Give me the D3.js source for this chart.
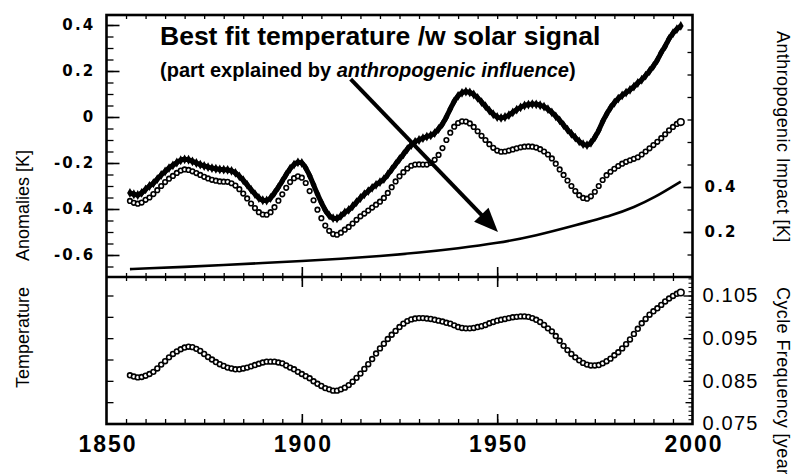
<!DOCTYPE html>
<html>
<head>
<meta charset="utf-8">
<script src="https://cdn.jsdelivr.net/npm/d3@7"></script>
<style>
body { margin: 0; background: #fff; }
svg { display: block; font-family: "Liberation Sans", Arial, Helvetica, sans-serif; }
</style>
</head>
<body>
<div id="chart"></div>
<script>
// annual series, 1856 - 1997
var YEARS = d3.range(1856, 1998);

// best fit temperature /w solar signal (filled marks), K
var BEST_FIT = [
    -0.330, -0.336, -0.339, -0.330, -0.315, -0.300, -0.288, -0.270, -0.252, -0.237,
    -0.222, -0.210, -0.198, -0.188, -0.184, -0.186, -0.193, -0.200, -0.207, -0.213,
    -0.218, -0.222, -0.225, -0.228, -0.229, -0.230, -0.234, -0.243, -0.258, -0.275,
    -0.295, -0.316, -0.335, -0.352, -0.362, -0.363, -0.352, -0.330, -0.305, -0.278,
    -0.250, -0.225, -0.207, -0.197, -0.200, -0.222, -0.255, -0.295, -0.335, -0.372,
    -0.405, -0.428, -0.440, -0.441, -0.430, -0.415, -0.404, -0.388, -0.370, -0.352,
    -0.336, -0.322, -0.308, -0.295, -0.283, -0.270, -0.250, -0.228, -0.205, -0.183,
    -0.162, -0.140, -0.122, -0.108, -0.100, -0.092, -0.085, -0.080, -0.070, -0.052,
    -0.030, 0.000, 0.035, 0.068, 0.092, 0.105, 0.110, 0.107, 0.098, 0.083,
    0.065, 0.047, 0.028, 0.012, 0.000, -0.004, 0.000, 0.008, 0.020, 0.032,
    0.042, 0.050, 0.054, 0.056, 0.055, 0.051, 0.045, 0.034, 0.020, 0.003,
    -0.015, -0.035, -0.055, -0.073, -0.090, -0.106, -0.118, -0.122, -0.112, -0.088,
    -0.058, -0.020, 0.012, 0.040, 0.062, 0.080, 0.094, 0.106, 0.118, 0.132,
    0.148, 0.162, 0.180, 0.200, 0.222, 0.248, 0.280, 0.308, 0.340, 0.364,
    0.382, 0.396
];

// temperature without the anthropogenic part (open circles), K
var NATURAL = [
    -0.365, -0.373, -0.377, -0.372, -0.360, -0.350, -0.335, -0.318, -0.300, -0.283,
    -0.268, -0.256, -0.243, -0.233, -0.228, -0.230, -0.236, -0.244, -0.252, -0.260,
    -0.267, -0.273, -0.277, -0.280, -0.281, -0.282, -0.288, -0.298, -0.314, -0.333,
    -0.354, -0.376, -0.396, -0.414, -0.424, -0.425, -0.414, -0.392, -0.364, -0.336,
    -0.308, -0.283, -0.266, -0.258, -0.264, -0.287, -0.322, -0.362, -0.403, -0.440,
    -0.472, -0.495, -0.509, -0.512, -0.503, -0.490, -0.478, -0.463, -0.447, -0.432,
    -0.420, -0.407, -0.394, -0.381, -0.368, -0.352, -0.330, -0.305, -0.280, -0.258,
    -0.240, -0.224, -0.212, -0.207, -0.206, -0.207, -0.207, -0.200, -0.186, -0.165,
    -0.135, -0.100, -0.068, -0.042, -0.026, -0.019, -0.020, -0.028, -0.043, -0.062,
    -0.082, -0.100, -0.118, -0.134, -0.146, -0.151, -0.150, -0.146, -0.141, -0.136,
    -0.132, -0.129, -0.128, -0.129, -0.133, -0.140, -0.150, -0.163, -0.180, -0.203,
    -0.228, -0.252, -0.276, -0.300, -0.322, -0.340, -0.352, -0.355, -0.345, -0.325,
    -0.300, -0.274, -0.253, -0.238, -0.225, -0.213, -0.203, -0.195, -0.188, -0.182,
    -0.175, -0.163, -0.150, -0.136, -0.122, -0.108, -0.092, -0.075, -0.058, -0.043,
    -0.030, -0.022
];

// anthropogenic impact, right axis of upper panel, K
var ANTHRO_YEARS = [1856, 1860, 1870, 1880, 1890, 1900, 1910, 1920, 1930, 1940, 1950, 1960, 1970, 1980, 1985, 1990, 1997];
var ANTHRO = [0.035, 0.038, 0.045, 0.053, 0.062, 0.071, 0.081, 0.093, 0.108, 0.127, 0.150, 0.184, 0.230, 0.277, 0.310, 0.350, 0.424];

// solar cycle frequency, 1/year
var CYCLE_FREQ = [
    0.0863, 0.0860, 0.0858, 0.0859, 0.0862, 0.0866, 0.0871, 0.0879, 0.0888, 0.0896,
    0.0905, 0.0913, 0.0919, 0.0924, 0.0928, 0.0930, 0.0929, 0.0925, 0.0920, 0.0913,
    0.0906, 0.0900, 0.0894, 0.0889, 0.0885, 0.0881, 0.0879, 0.0877, 0.0877, 0.0879,
    0.0881, 0.0884, 0.0887, 0.0890, 0.0893, 0.0895, 0.0895, 0.0895, 0.0893, 0.0891,
    0.0886, 0.0881, 0.0877, 0.0871, 0.0866, 0.0861, 0.0856, 0.0849, 0.0843, 0.0838,
    0.0833, 0.0830, 0.0827, 0.0827, 0.0830, 0.0834, 0.0840, 0.0848, 0.0857, 0.0867,
    0.0878, 0.0889, 0.0901, 0.0914, 0.0926, 0.0937, 0.0948, 0.0958, 0.0967, 0.0976,
    0.0984, 0.0990, 0.0994, 0.0996, 0.0997, 0.0997, 0.0996, 0.0995, 0.0993, 0.0991,
    0.0989, 0.0986, 0.0984, 0.0980, 0.0976, 0.0974, 0.0973, 0.0973, 0.0974, 0.0976,
    0.0978, 0.0981, 0.0985, 0.0988, 0.0991, 0.0993, 0.0995, 0.0997, 0.0999, 0.1000,
    0.1001, 0.1001, 0.1000, 0.0997, 0.0993, 0.0988, 0.0981, 0.0973, 0.0966, 0.0955,
    0.0944, 0.0932, 0.0922, 0.0913, 0.0905, 0.0898, 0.0892, 0.0888, 0.0886, 0.0886,
    0.0887, 0.0891, 0.0896, 0.0902, 0.0910, 0.0917, 0.0926, 0.0936, 0.0947, 0.0960,
    0.0972, 0.0985, 0.0995, 0.1005, 0.1013, 0.1020, 0.1028, 0.1036, 0.1043, 0.1049,
    0.1054, 0.1057
];

// tick labels
var TEMP_TICKS = [0.4, 0.2, 0, -0.2, -0.4, -0.6];
var ANTHRO_TICKS = [0.2, 0.4];
var FREQ_TICKS = [0.075, 0.085, 0.095, 0.105];
var YEAR_TICKS = [1850, 1900, 1950, 2000];

// annotation arrow, in (year, K)
var ARROW = [[1912.5, 0.165], [1950.2, -0.5]];

var W = 798, H = 474;
var L = 106.5, R = 692.5, T = 15, M = 277, B = 424;

var x = d3.scaleLinear().domain([1850, 2000]).range([L, R]);
var yT = d3.scaleLinear().domain([-0.6, 0.4]).range([255, 25]);
var yA = d3.scaleLinear().domain([0, 0.4]).range([M, 187]);
var yF = d3.scaleLinear().domain([0.075, 0.105]).range([423.5, 295.5]);

var svg = d3.select("#chart").append("svg")
    .attr("width", W)
    .attr("height", H);

// ticks helper: no domain line, black tick marks
function ticks(g, axis, w) {
    g.call(axis);
    g.select(".domain").remove();
    g.selectAll("line").attr("stroke", "#000").attr("stroke-width", w || 1.3);
    return g;
}

function fmtTemp(d) {
    return Math.abs(d) < 1e-9 ? "0" : d.toFixed(1);
}

// ---- x ticks
var minorYears = d3.range(1855, 2000, 5);
ticks(svg.append("g").attr("transform", "translate(0," + B + ")"),
    d3.axisBottom(x).tickValues(minorYears).tickSize(-5).tickFormat(""));
ticks(svg.append("g").attr("transform", "translate(0," + B + ")"),
    d3.axisBottom(x).tickValues([1900, 1950]).tickSize(-10).tickFormat(""), 1.6);
ticks(svg.append("g").attr("transform", "translate(0," + M + ")"),
    d3.axisBottom(x).tickValues(minorYears).tickSize(4).tickFormat(""));
ticks(svg.append("g").attr("transform", "translate(0," + M + ")"),
    d3.axisTop(x).tickValues(minorYears).tickSize(4).tickFormat(""));
ticks(svg.append("g").attr("transform", "translate(0," + M + ")"),
    d3.axisBottom(x).tickValues([1900, 1950]).tickSize(10).tickFormat(""), 1.6);
ticks(svg.append("g").attr("transform", "translate(0," + M + ")"),
    d3.axisTop(x).tickValues([1900, 1950]).tickSize(10).tickFormat(""), 1.6);
ticks(svg.append("g").attr("transform", "translate(0," + T + ")"),
    d3.axisBottom(x).tickValues(minorYears).tickSize(4).tickFormat(""));

var xl = ticks(svg.append("g").attr("transform", "translate(0," + B + ")"),
    d3.axisBottom(x).tickValues(YEAR_TICKS).tickSize(0).tickPadding(12).tickFormat(d3.format("d")));
xl.attr("font-size", 23).attr("font-family", null).attr("font-weight", "bold");
xl.selectAll("text").attr("letter-spacing", 2).attr("dx", 1);

// ---- left axis, upper panel
ticks(svg.append("g").attr("transform", "translate(" + L + ",0)"),
    d3.axisLeft(yT).tickValues(d3.range(-13, 9).map(function (i) { return i * 0.05; }))
        .tickSize(-7).tickFormat(""));
var tl = ticks(svg.append("g").attr("transform", "translate(" + L + ",0)"),
    d3.axisLeft(yT).tickValues(TEMP_TICKS).tickSize(-13).tickPadding(11).tickFormat(fmtTemp), 1.6);
tl.attr("font-size", 15).attr("font-family", "'DejaVu Sans', sans-serif").attr("font-weight", "bold");
tl.selectAll("text").attr("letter-spacing", 2.2);

// ---- left axis, lower panel
ticks(svg.append("g").attr("transform", "translate(" + L + ",0)"),
    d3.axisLeft(yF).tickValues([0.08, 0.085, 0.09, 0.095, 0.1, 0.105]).tickSize(-7).tickFormat(""));

// ---- right axis, upper panel
ticks(svg.append("g").attr("transform", "translate(" + R + ",0)"),
    d3.axisRight(yA).tickValues(d3.range(1, 12).map(function (i) { return i * 0.1; }))
        .tickSize(-5).tickFormat(""));
var ta = ticks(svg.append("g").attr("transform", "translate(" + R + ",0)"),
    d3.axisRight(yA).tickValues(ANTHRO_TICKS).tickSize(-9).tickPadding(12).tickFormat(d3.format(".1f")), 1.6);
ta.attr("font-size", 15).attr("font-family", "'DejaVu Sans', sans-serif").attr("font-weight", "bold");
ta.selectAll("text").attr("letter-spacing", 2.2);

// ---- right axis, lower panel
ticks(svg.append("g").attr("transform", "translate(" + R + ",0)"),
    d3.axisRight(yF).tickValues(d3.range(75, 110).map(function (i) { return i / 1000; }))
        .tickSize(-4).tickFormat(""), 1);
ticks(svg.append("g").attr("transform", "translate(" + R + ",0)"),
    d3.axisRight(yF).tickValues([0.08, 0.09, 0.1]).tickSize(-7).tickFormat(""));
var tf = ticks(svg.append("g").attr("transform", "translate(" + R + ",0)"),
    d3.axisRight(yF).tickValues(FREQ_TICKS).tickSize(-9).tickPadding(10).tickFormat(d3.format(".3f")), 1.4);
tf.attr("font-size", 20).attr("font-family", null);
tf.selectAll("text").attr("letter-spacing", 1.2);

// ---- frame
svg.append("rect")
    .attr("x", L).attr("y", T)
    .attr("width", R - L).attr("height", B - T)
    .attr("fill", "none").attr("stroke", "#000").attr("stroke-width", 2.6);
svg.append("line")
    .attr("x1", L).attr("x2", R).attr("y1", M).attr("y2", M)
    .attr("stroke", "#000").attr("stroke-width", 2.6);

// ---- anthropogenic impact
var anthroLine = d3.line()
    .x(function (d, i) { return x(ANTHRO_YEARS[i]); })
    .y(function (d) { return yA(d); })
    .curve(d3.curveBasis);
svg.append("path")
    .attr("d", anthroLine(ANTHRO))
    .attr("fill", "none").attr("stroke", "#000").attr("stroke-width", 2.6);

// ---- best fit (thick black with diamonds)
var fitLine = d3.line()
    .x(function (d, i) { return x(YEARS[i]); })
    .y(function (d) { return yT(d); })
    .curve(d3.curveMonotoneX);
svg.append("path")
    .attr("d", fitLine(BEST_FIT))
    .attr("fill", "none").attr("stroke", "#000").attr("stroke-width", 5)
    .attr("stroke-linejoin", "round");
svg.append("g").selectAll("path")
    .data(BEST_FIT)
    .enter().append("path")
    .attr("transform", function (d, i) { return "translate(" + x(YEARS[i]) + "," + yT(d) + ")"; })
    .attr("d", d3.symbol().type(d3.symbolDiamond).size(28))
    .attr("fill", "#000");

// ---- open circle series
function circles(values, yScale, r) {
    svg.append("g").selectAll("circle")
        .data(values)
        .enter().append("circle")
        .attr("cx", function (d, i) { return x(YEARS[i]); })
        .attr("cy", function (d) { return yScale(d); })
        .attr("r", function (d, i) { return i === values.length - 1 ? 3.3 : r; })
        .attr("fill", "#fff")
        .attr("stroke", "#000")
        .attr("stroke-width", 1.6);
}
circles(NATURAL, yT, 2.3);
circles(CYCLE_FREQ, yF, 2.4);

// ---- arrow
var p0 = [x(ARROW[0][0]), yT(ARROW[0][1])],
    p1 = [x(ARROW[1][0]), yT(ARROW[1][1])];
var dx = p1[0] - p0[0], dy = p1[1] - p0[1], len = Math.sqrt(dx * dx + dy * dy);
var ux = dx / len, uy = dy / len, hl = 24, hw = 10;
var bx = p1[0] - ux * hl, by = p1[1] - uy * hl;
svg.append("line")
    .attr("x1", p0[0]).attr("y1", p0[1])
    .attr("x2", bx + ux * 2).attr("y2", by + uy * 2)
    .attr("stroke", "#000").attr("stroke-width", 4);
svg.append("polygon")
    .attr("points", [
        [p1[0], p1[1]],
        [bx - uy * hw, by + ux * hw],
        [bx + uy * hw, by - ux * hw]
    ].map(function (p) { return p.join(","); }).join(" "))
    .attr("fill", "#000");

// ---- titles
svg.append("text")
    .attr("x", 160).attr("y", 45)
    .attr("font-size", 26.5).attr("font-weight", "bold")
    .text("Best fit temperature /w solar signal");
var sub = svg.append("text")
    .attr("x", 160).attr("y", 77)
    .attr("font-size", 20).attr("font-weight", "bold");
sub.append("tspan").text("(part explained by ");
sub.append("tspan").attr("font-style", "italic").text("anthropogenic influence");
sub.append("tspan").text(")");

// ---- axis titles
svg.append("text")
    .attr("transform", "translate(29,261) rotate(-90)")
    .attr("font-size", 18)
    .text("Anomalies [K]");
svg.append("text")
    .attr("transform", "translate(29,388) rotate(-90)")
    .attr("font-size", 18)
    .text("Temperature");
svg.append("text")
    .attr("transform", "translate(777,31) rotate(90)")
    .attr("font-size", 18)
    .attr("letter-spacing", 0.4)
    .text("Anthropogenic Impact [K]");
svg.append("text")
    .attr("transform", "translate(777,287) rotate(90)")
    .attr("font-size", 18)
    .attr("letter-spacing", 0.4)
    .text("Cycle Frequency [year\u207B\u00B9]");
</script>
</body>
</html>
